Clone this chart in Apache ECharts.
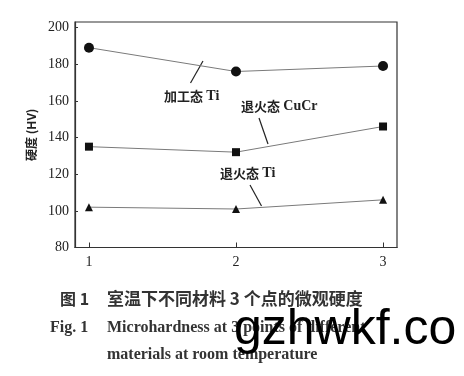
<!DOCTYPE html>
<html><head><meta charset="utf-8">
<script src="https://cdn.jsdelivr.net/npm/echarts@6/dist/echarts.min.js"></script>
<style>html,body{margin:0;padding:0;background:#fff}#c{width:464px;height:376px}</style>
</head><body><div id="c"></div>
<script>
const points = [1, 2, 3];
const yTicks = [80, 100, 120, 140, 160, 180, 200];
const workedTi = [189, 176, 179];
const annealedCuCr = [135, 132, 146];
const annealedTi = [102, 101, 106];
const labelCjk = ['加工态', '退火态', '退火态'];
const labelLatin = ['Ti', 'CuCr', 'Ti'];
const seriesNames = labelCjk.map((c, i) => c + ' ' + labelLatin[i]);

const chart = echarts.init(document.getElementById('c'), null, {renderer: 'canvas'});
const serif = '"Liberation Serif","DejaVu Serif",serif';
const cjk = '"Noto Sans CJK SC",sans-serif';
const pair = arr => points.map((p, i) => [p, arr[i]]);
const lineStyle = {color: '#7a7a7a', width: 1};
function mk(name, data, symbol, size) {
  return {name, type: 'line', data: pair(data), symbol, symbolSize: size,
    lineStyle, itemStyle: {color: '#111'}, z: 3, animation: false};
}
function label(i, left, top) {
  return {type: 'text', left, top, style: {
    text: '{a|' + labelCjk[i] + '} {b|' + labelLatin[i] + '}',
    rich: {a: {fontFamily: cjk, fontSize: 13, fontWeight: 'bold', fill: '#222'},
           b: {fontFamily: serif, fontSize: 14, fontWeight: 'bold', fill: '#222'}}}};
}
chart.setOption({
  animation: false,
  grid: {left: 75, right: 67, top: 22, bottom: 128.5, show: true, borderColor: '#333', borderWidth: 1.2},
  xAxis: {type: 'value', min: 0.905, max: 3.095,
    axisLine: {lineStyle: {color: '#333', width: 1.2}},
    splitLine: {show: false},
    axisTick: {inside: true, length: 5, customValues: points, lineStyle: {color: '#333'}},
    axisLabel: {customValues: points, color: '#222', fontFamily: serif, fontSize: 14, margin: 8}},
  yAxis: {type: 'value', min: 80, max: 203,
    axisLine: {show: true, lineStyle: {color: '#333', width: 1.2}},
    splitLine: {show: false},
    axisTick: {show: true, inside: true, length: 3, customValues: yTicks, lineStyle: {color: '#333'}},
    axisLabel: {customValues: yTicks, color: '#222', fontFamily: serif, fontSize: 14, margin: 6},
    name: '硬度 (HV)', nameLocation: 'middle', nameGap: 37, nameRotate: 90,
    nameTextStyle: {fontFamily: cjk, fontSize: 12, fontWeight: 'bold', color: '#222'}},
  series: [
    mk(seriesNames[0], workedTi, 'circle', 10),
    mk(seriesNames[1], annealedCuCr, 'rect', 8),
    mk(seriesNames[2], annealedTi, 'triangle', 8)
  ],
  graphic: [
    label(0, 164, 89),
    {type: 'line', shape: {x1: 190.5, y1: 83, x2: 203, y2: 61}, style: {stroke: '#222', lineWidth: 1.2}},
    label(1, 241, 99),
    {type: 'line', shape: {x1: 259, y1: 118, x2: 268, y2: 144}, style: {stroke: '#222', lineWidth: 1.2}},
    label(2, 220, 166),
    {type: 'line', shape: {x1: 250, y1: 185, x2: 261.5, y2: 206}, style: {stroke: '#222', lineWidth: 1.2}},
    {type: 'text', left: 60, top: 291, style: {text: '图 1', font: 'bold 16px ' + cjk, fill: '#333'}},
    {type: 'text', left: 107, top: 290, style: {text: '室温下不同材料 3 个点的微观硬度', font: 'bold 17px ' + cjk, fill: '#333'}},
    {type: 'text', left: 50, top: 320, style: {text: 'Fig. 1', font: 'bold 16px ' + serif, fill: '#333'}},
    {type: 'text', left: 107, top: 320, style: {text: 'Microhardness at 3 points of different', font: 'bold 16px ' + serif, fill: '#333'}},
    {type: 'text', left: 107, top: 347, style: {text: 'materials at room temperature', font: 'bold 16px ' + serif, fill: '#333'}},
    {type: 'text', left: 234, top: 305, z: 10, style: {text: 'gzhwkf.co', font: '50px "Liberation Sans",Arial,sans-serif', fill: '#000'}}
  ]
});
</script></body></html>
